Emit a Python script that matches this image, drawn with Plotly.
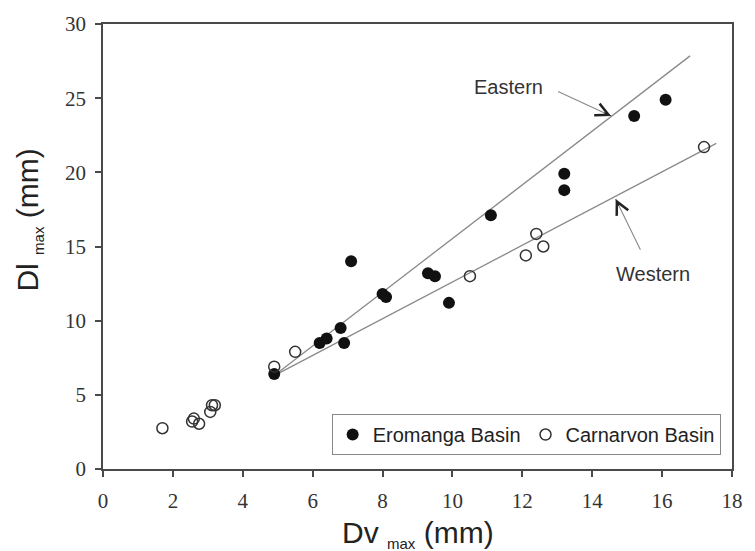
import plotly.graph_objects as go

# Eromanga Basin (filled)
ero_x = [4.9, 6.2, 6.4, 6.8, 6.9, 7.1, 8.0, 8.1, 9.3, 9.5, 9.9, 11.1, 13.2, 13.2, 15.2, 16.1]
ero_y = [6.4, 8.5, 8.8, 9.5, 8.5, 14.0, 11.8, 11.6, 13.2, 13.0, 11.2, 17.1, 19.9, 18.8, 23.8, 24.9]

# Carnarvon Basin (open)
car_x = [1.7, 2.6, 2.55, 2.75, 3.07, 3.12, 3.2, 4.9, 5.5, 10.5, 12.1, 12.4, 12.6, 17.2]
car_y = [2.75, 3.4, 3.2, 3.05, 3.85, 4.3, 4.3, 6.9, 7.9, 13.0, 14.4, 15.85, 15.0, 21.7]

# Regression lines (endpoints)
east_x = [4.9, 16.8]
east_y = [6.3, 27.85]
west_x = [4.9, 17.55]
west_y = [6.3, 21.95]

x_ticks = [0, 2, 4, 6, 8, 10, 12, 14, 16, 18]
y_ticks = [0, 5, 10, 15, 20, 25, 30]

SANS = "Liberation Sans, Arial, sans-serif"
SERIF = "Liberation Serif, Times New Roman, serif"

fig = go.Figure()
fig.add_trace(go.Scatter(x=east_x, y=east_y, mode="lines", line=dict(color="#8a8a8a", width=1.3),
                         showlegend=False, hoverinfo="skip"))
fig.add_trace(go.Scatter(x=west_x, y=west_y, mode="lines", line=dict(color="#8a8a8a", width=1.3),
                         showlegend=False, hoverinfo="skip"))
fig.add_trace(go.Scatter(x=ero_x, y=ero_y, mode="markers", name="Eromanga Basin",
                         marker=dict(symbol="circle", size=12, color="#111111",
                                     line=dict(width=0))))
fig.add_trace(go.Scatter(x=car_x, y=car_y, mode="markers", name="Carnarvon Basin",
                         marker=dict(symbol="circle-open", size=11, color="#333333",
                                     line=dict(width=1.5))))

axis_common = dict(
    showgrid=False, zeroline=False, showline=True, linecolor="#4a4a4a", linewidth=1.5,
    mirror=True, ticks="outside", ticklen=6, tickwidth=1.5, tickcolor="#4a4a4a",
    tickfont=dict(family=SERIF, size=21, color="#333333"),
)
fig.update_xaxes(range=[0, 18], tickvals=x_ticks, ticktext=[str(v) for v in x_ticks],
                 ticklabelstandoff=6, **axis_common)
fig.update_yaxes(range=[0, 30], tickvals=y_ticks, ticktext=[str(v) for v in y_ticks],
                 ticklabelstandoff=5, **axis_common)

SUB = "<sub><span style='font-size:15px'>max</span></sub>"

annotations = [
    # axis titles
    dict(text="Dv " + SUB + " (mm)", xref="paper", yref="paper", x=0.5, y=-0.1,
         xanchor="center", yanchor="top", showarrow=False,
         font=dict(family=SANS, size=30, color="#222222")),
    dict(text="Dl " + SUB + " (mm)", xref="paper", yref="paper", x=-0.118, y=0.56,
         xanchor="center", yanchor="middle", showarrow=False, textangle=-90,
         font=dict(family=SANS, size=30, color="#222222")),
    # labels
    dict(text="Eastern", x=11.6, y=25.75, xref="x", yref="y", showarrow=False,
         font=dict(family=SANS, size=20, color="#333333")),
    dict(text="Western", x=15.75, y=13.15, xref="x", yref="y", showarrow=False,
         font=dict(family=SANS, size=20, color="#333333")),
    # arrow shafts
    dict(text="", x=14.54, y=23.8, ax=12.98, ay=25.49, xref="x", yref="y", axref="x", ayref="y",
         showarrow=True, arrowhead=0, arrowwidth=1.1, arrowcolor="#888888", standoff=0),
    dict(text="", x=14.67, y=18.2, ax=15.4, ay=14.68, xref="x", yref="y", axref="x", ayref="y",
         showarrow=True, arrowhead=0, arrowwidth=1.1, arrowcolor="#888888", standoff=0),
    # arrow heads
    dict(text="", x=14.54, y=23.8, ax=14.3, ay=24.06, xref="x", yref="y", axref="x", ayref="y",
         showarrow=True, arrowhead=5, arrowsize=2.1, arrowwidth=1.2, arrowcolor="#222222", standoff=0),
    dict(text="", x=14.67, y=18.2, ax=14.78, ay=17.67, xref="x", yref="y", axref="x", ayref="y",
         showarrow=True, arrowhead=5, arrowsize=2.1, arrowwidth=1.2, arrowcolor="#222222", standoff=0),
]

fig.update_layout(
    width=755, height=551,
    margin=dict(l=103, r=14, t=23, b=82),
    paper_bgcolor="white", plot_bgcolor="white",
    showlegend=True,
    legend=dict(orientation="h", x=0.3635, y=0.1235, xanchor="left", yanchor="top",
                bgcolor="white", bordercolor="#888888", borderwidth=1,
                font=dict(family=SANS, size=20, color="#222222"),
                itemwidth=30, tracegroupgap=0),
    annotations=annotations,
)

fig.write_html("out.html")
